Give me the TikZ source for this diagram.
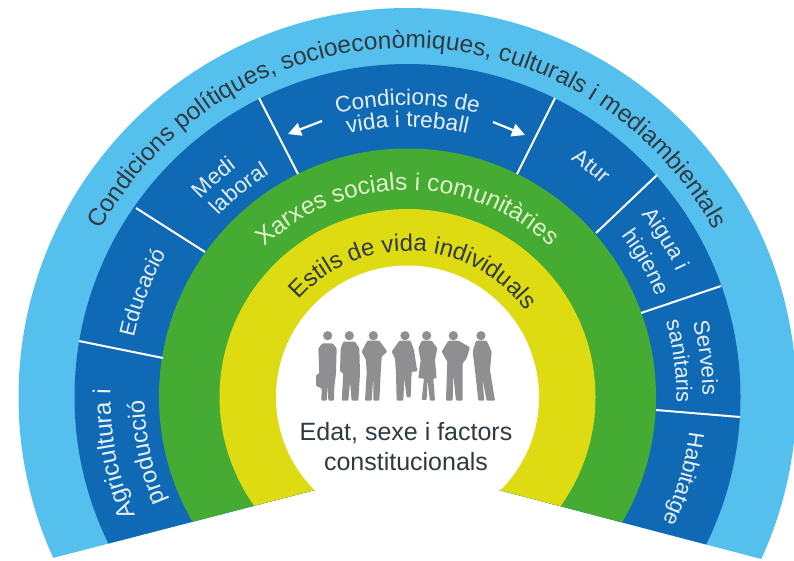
\documentclass[tikz,border=0pt]{standalone}
\usepackage{fontspec}
\setmainfont{Liberation Sans}
\usetikzlibrary{decorations.text,arrows.meta}
\definecolor{skyring}{HTML}{55C0EE}
\definecolor{deepring}{HTML}{1069B5}
\definecolor{greenring}{HTML}{45AB33}
\definecolor{yellowring}{HTML}{DEDB12}
\definecolor{figgray}{HTML}{8F8F91}
\definecolor{inkdark}{HTML}{2F3A42}
\definecolor{paleblue}{HTML}{E6F0F8}
\definecolor{palegreen}{HTML}{E2F2C8}
% radius, start angle, end angle, font size, colour, text
\newcommand\arclabel[6]{%
  \path[decorate,decoration={text along path,text align=center,
    text={|\fontsize{#4}{#4}\selectfont\color{#5}|#6}}]
    plot[domain=#2:#3,samples=80] ({407.5+#1*cos(\x)},{397-#1*sin(\x)});%
}
\tikzset{
  sep/.style={draw=white,line width=2pt},
  arrowline/.style={draw=white,line width=2.2pt,-{Triangle[length=13pt,width=13pt]}},
  figure/.style={fill=figgray,draw=none,rounded corners=1pt},
  centre/.style={align=center,text=inkdark,font=\fontsize{25}{30}\selectfont}
}
\begin{document}
\begin{tikzpicture}[x=1pt,y=-1pt]
\useasboundingbox (0,0) rectangle (794,560);
\fill[white] (0,0) rectangle (794,560);
\begin{scope}
  \clip (407.5,466) -- (0,571.7) -- (0,0) -- (794,0) -- (794,567.6) -- cycle;
  \fill[skyring] (407.5,397) circle[radius=389pt];
  \fill[deepring] (407.5,397) circle[radius=333pt];
  \fill[greenring] (407.5,397) circle[radius=248.5pt];
  \fill[yellowring] (407.5,397) circle[radius=188pt];
  \fill[white] (407.5,397) circle[radius=131.5pt];
\end{scope}
\fill[white] (407.5,464.5) -- (316,488.2) -- (316,500) -- (499,500) -- (499,488.2) -- cycle;
% separators
\coordinate (s1a) at (79,341);   \coordinate (s1b) at (163,358);
\coordinate (s2a) at (136,208);  \coordinate (s2b) at (205,252);
\coordinate (s3a) at (259,98);   \coordinate (s3b) at (298,174);
\coordinate (s4a) at (555,98);   \coordinate (s4b) at (517,174);
\coordinate (s5a) at (657,175);  \coordinate (s5b) at (596,233);
\coordinate (s6a) at (721,286);  \coordinate (s6b) at (641,313);
\coordinate (s7a) at (740,417);  \coordinate (s7b) at (656,410);
\foreach \k in {1,...,7} \draw[sep] (s\k a) -- (s\k b);
% arrows
\coordinate (la) at (322,121); \coordinate (lb) at (288,134);
\coordinate (ra) at (493,122); \coordinate (rb) at (525,135);
\draw[arrowline] (la) -- (lb);
\draw[arrowline] (ra) -- (rb);
% curved labels
\arclabel{349}{152}{28}{24.6}{inkdark}{Condicions polítiques, socioeconòmiques, culturals i mediambientals}
\arclabel{207}{150}{30}{24.4}{palegreen}{Xarxes socials i comunitàries}
\arclabel{146}{167}{7}{24}{inkdark}{Estils de vida individuals}
\arclabel{297}{215}{167}{24.5}{paleblue}{Agricultura i}
\arclabel{263}{215}{169}{24}{paleblue}{producció}
\arclabel{280}{180}{137}{22}{paleblue}{Educació}
\arclabel{286}{150}{113}{22}{paleblue}{Medi}
\arclabel{262}{150}{108}{22}{paleblue}{laboral}
\arclabel{292}{120}{60}{22.5}{paleblue}{Condicions de}
\arclabel{270}{120}{60}{22.5}{paleblue}{vida i treball}
\arclabel{288}{70}{33}{22}{paleblue}{Atur}
\arclabel{297}{49.5}{13.5}{22}{paleblue}{Aigua i}
\arclabel{268}{49.5}{9.5}{22}{paleblue}{higiene}
\arclabel{295}{25}{-10}{22}{paleblue}{Serveis}
\arclabel{269}{26}{-11}{22}{paleblue}{sanitaris}
\arclabel{284}{5}{-38}{22}{paleblue}{Habitatge}
% people (coordinates measured on a 3x grid)
\begin{scope}[shift={(290,310)},x=0.3333pt,y=-0.3333pt]
  \foreach \hx in {113,178,250,345,410,490,573}
    \fill[figure] (\hx,77) circle[radius=4.6pt];
  \fill[figure] (97,100)--(128,100)--(140,115)--(138,190)--(133,230)--(132,272)--(115,272)--(113,225)--(110,272)--(94,272)--(95,235)--(78,228)--(78,195)--(88,190)--(85,115)--cycle;
  \fill[figure] (160,95)--(195,95)--(208,115)--(210,190)--(205,272)--(185,272)--(180,215)--(175,272)--(155,272)--(160,190)--(150,185)--(152,115)--cycle;
  \fill[figure] (232,92)--(268,92)--(292,125)--(275,140)--(272,190)--(268,272)--(250,272)--(250,200)--(245,272)--(225,272)--(230,190)--(228,150)--(215,125)--cycle;
  \fill[figure] (328,92)--(362,92)--(372,120)--(382,185)--(365,185)--(362,262)--(350,262)--(343,205)--(340,272)--(320,272)--(318,190)--(315,145)--(305,125)--cycle;
  \fill[figure] (395,92)--(425,92)--(442,115)--(435,150)--(440,205)--(430,205)--(435,272)--(420,272)--(412,210)--(410,270)--(395,270)--(402,205)--(385,205)--(392,150)--(385,115)--cycle;
  \fill[figure] (475,92)--(505,92)--(540,112)--(530,145)--(518,160)--(518,272)--(498,272)--(490,195)--(488,272)--(468,272)--(472,155)--(455,125)--cycle;
  \fill[figure] (558,92)--(590,92)--(605,125)--(600,180)--(615,272)--(590,272)--(577,205)--(583,272)--(565,272)--(555,180)--(548,125)--cycle;
\end{scope}
\node[centre,anchor=center] (age) at (406,447) {Edat, sexe i factors\\constitucionals};
\end{tikzpicture}
\end{document}
